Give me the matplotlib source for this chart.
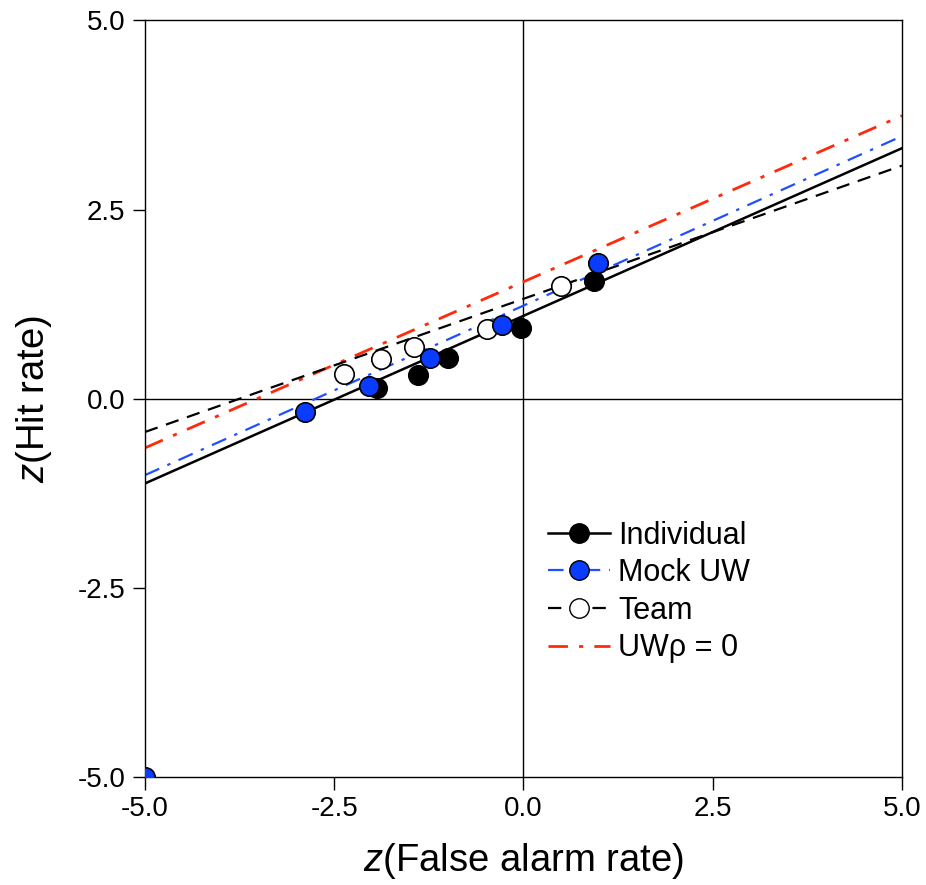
import numpy as np
import matplotlib
matplotlib.use("Agg")
import matplotlib.pyplot as plt

plt.rcParams['font.family'] = ['Liberation Sans', 'DejaVu Sans']
plt.rcParams['mathtext.fontset'] = 'custom'
plt.rcParams['mathtext.it'] = 'Liberation Sans:italic'
plt.rcParams['axes.unicode_minus'] = False

# --- data ---
indiv_x = [-1.94, -1.39, -1.00, -0.03, 0.93]
indiv_y = [0.14, 0.31, 0.54, 0.93, 1.55]

mock_x = [-5.0, -2.88, -2.04, -1.24, -0.29, 0.98]
mock_y = [-5.0, -0.17, 0.17, 0.54, 0.98, 1.79]

team_x = [-2.37, -1.88, -1.45, -0.48, 0.49]
team_y = [0.33, 0.53, 0.68, 0.92, 1.49]

# fitted lines, values at the x-limits
line_x = [-5.0, 5.0]
indiv_fit = [-1.12, 3.31]
mock_fit = [-1.01, 3.47]
team_fit = [-0.44, 3.08]
uw0_fit = [-0.65, 3.74]

ticks = [-5.0, -2.5, 0.0, 2.5, 5.0]

blue = '#0a3cff'
blue_line = '#1f4fff'
red = '#ff2a0a'

fig = plt.figure(figsize=(9.26, 8.85), dpi=100)
ax = fig.add_axes([0.1566, 0.122, 0.8174, 0.855])

ax.axhline(0, color='black', lw=1, zorder=1)
ax.axvline(0, color='black', lw=1, zorder=1)

ms = 14
ax.plot(line_x, uw0_fit, color=red, lw=2, dashes=(7, 4, 1.5, 4), zorder=2)
ax.plot(line_x, team_fit, color='black', lw=1.6, dashes=(6, 4), zorder=2)
ax.plot(line_x, mock_fit, color=blue_line, lw=1.6, dashes=(7, 4, 1.5, 4), zorder=2)
ax.plot(line_x, indiv_fit, color='black', lw=1.8, zorder=2)

ax.plot(team_x, team_y, 'o', ms=ms, mfc='white', mec='black', mew=1.2, zorder=3)
ax.plot(indiv_x, indiv_y, 'o', ms=ms, mfc='black', mec='black', mew=1.2, zorder=3)
ax.plot(mock_x, mock_y, 'o', ms=ms, mfc=blue, mec='black', mew=1.2, zorder=4)

# legend proxies
h_ind, = ax.plot([], [], color='black', lw=1.8, marker='o', ms=ms, mfc='black', mec='black')
h_mock, = ax.plot([], [], color=blue_line, lw=1.6, dashes=(7, 4, 1.5, 4), marker='o', ms=ms, mfc=blue, mec='black')
h_team, = ax.plot([], [], color='black', lw=1.6, dashes=(6, 4), marker='o', ms=ms, mfc='white', mec='black')
h_uw, = ax.plot([], [], color=red, lw=2, dashes=(7, 4, 1.5, 4))
ax.legend([h_ind, h_mock, h_team, h_uw], ['Individual', 'Mock UW', 'Team', 'UWρ = 0'],
          loc='upper left', bbox_to_anchor=(0.532, 0.339), frameon=False, fontsize=22,
          borderpad=0, borderaxespad=0,
          handlelength=2.05, handletextpad=0.25, labelspacing=0.25)

ax.set_xlim(-5, 5)
ax.set_ylim(-5, 5)
ax.set_xticks(ticks)
ax.set_yticks(ticks)
ax.set_xticklabels([f'{t:.1f}' for t in ticks])
ax.set_yticklabels([f'{t:.1f}' for t in ticks])
ax.tick_params(direction='out', length=9, width=1, labelsize=20, pad=5)
for s in ax.spines.values():
    s.set_linewidth(1)

ax.set_xlabel('$z$(False alarm rate)', fontsize=27.5, labelpad=13)
ax.set_ylabel('$z$(Hit rate)', fontsize=27.5, labelpad=17)

fig.savefig('out.png', dpi=100)
